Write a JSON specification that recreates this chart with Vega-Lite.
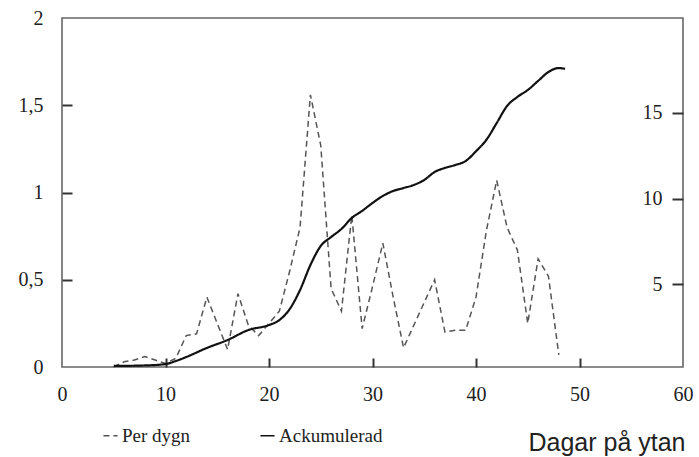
{
  "$schema": "https://vega.github.io/schema/vega-lite/v6.json",
  "width": 621,
  "height": 349,
  "autosize": {"type": "none"},
  "padding": {"left": 62, "top": 18, "right": 16, "bottom": 90},
  "background": "white",
  "config": {
    "view": {"stroke": "#666", "strokeWidth": 1.6},
    "axis": {"domain": false, "grid": false, "labelFont": "Liberation Serif", "labelFontSize": 20, "labelColor": "#222"}
  },
  "datasets": {
    "perdygn": [
      {"dag": 5, "varde": 0.0, "serie": "Per dygn"},
      {"dag": 6, "varde": 0.03, "serie": "Per dygn"},
      {"dag": 7, "varde": 0.04, "serie": "Per dygn"},
      {"dag": 8, "varde": 0.06, "serie": "Per dygn"},
      {"dag": 9, "varde": 0.04, "serie": "Per dygn"},
      {"dag": 10, "varde": 0.02, "serie": "Per dygn"},
      {"dag": 11, "varde": 0.05, "serie": "Per dygn"},
      {"dag": 12, "varde": 0.18, "serie": "Per dygn"},
      {"dag": 13, "varde": 0.19, "serie": "Per dygn"},
      {"dag": 14, "varde": 0.4, "serie": "Per dygn"},
      {"dag": 15, "varde": 0.25, "serie": "Per dygn"},
      {"dag": 16, "varde": 0.1, "serie": "Per dygn"},
      {"dag": 17, "varde": 0.42, "serie": "Per dygn"},
      {"dag": 18, "varde": 0.24, "serie": "Per dygn"},
      {"dag": 19, "varde": 0.18, "serie": "Per dygn"},
      {"dag": 20, "varde": 0.25, "serie": "Per dygn"},
      {"dag": 21, "varde": 0.32, "serie": "Per dygn"},
      {"dag": 22, "varde": 0.55, "serie": "Per dygn"},
      {"dag": 23, "varde": 0.8, "serie": "Per dygn"},
      {"dag": 24, "varde": 1.56, "serie": "Per dygn"},
      {"dag": 25, "varde": 1.27, "serie": "Per dygn"},
      {"dag": 26, "varde": 0.45, "serie": "Per dygn"},
      {"dag": 27, "varde": 0.32, "serie": "Per dygn"},
      {"dag": 28, "varde": 0.87, "serie": "Per dygn"},
      {"dag": 29, "varde": 0.22, "serie": "Per dygn"},
      {"dag": 30, "varde": 0.46, "serie": "Per dygn"},
      {"dag": 31, "varde": 0.71, "serie": "Per dygn"},
      {"dag": 32, "varde": 0.4, "serie": "Per dygn"},
      {"dag": 33, "varde": 0.11, "serie": "Per dygn"},
      {"dag": 34, "varde": 0.24, "serie": "Per dygn"},
      {"dag": 35, "varde": 0.37, "serie": "Per dygn"},
      {"dag": 36, "varde": 0.5, "serie": "Per dygn"},
      {"dag": 37, "varde": 0.2, "serie": "Per dygn"},
      {"dag": 38, "varde": 0.21, "serie": "Per dygn"},
      {"dag": 39, "varde": 0.21, "serie": "Per dygn"},
      {"dag": 40, "varde": 0.4, "serie": "Per dygn"},
      {"dag": 41, "varde": 0.78, "serie": "Per dygn"},
      {"dag": 42, "varde": 1.07, "serie": "Per dygn"},
      {"dag": 43, "varde": 0.8, "serie": "Per dygn"},
      {"dag": 44, "varde": 0.67, "serie": "Per dygn"},
      {"dag": 45, "varde": 0.25, "serie": "Per dygn"},
      {"dag": 46, "varde": 0.62, "serie": "Per dygn"},
      {"dag": 47, "varde": 0.52, "serie": "Per dygn"},
      {"dag": 48, "varde": 0.07, "serie": "Per dygn"}
    ],
    "ack": [
      {"dag": 5, "varde": 0.26, "serie": "Ackumulerad"},
      {"dag": 8, "varde": 0.29, "serie": "Ackumulerad"},
      {"dag": 10, "varde": 0.37, "serie": "Ackumulerad"},
      {"dag": 11, "varde": 0.55, "serie": "Ackumulerad"},
      {"dag": 12, "varde": 0.78, "serie": "Ackumulerad"},
      {"dag": 14, "varde": 1.31, "serie": "Ackumulerad"},
      {"dag": 16, "varde": 1.77, "serie": "Ackumulerad"},
      {"dag": 18, "varde": 2.35, "serie": "Ackumulerad"},
      {"dag": 20, "varde": 2.64, "serie": "Ackumulerad"},
      {"dag": 21, "varde": 2.93, "serie": "Ackumulerad"},
      {"dag": 22, "varde": 3.57, "serie": "Ackumulerad"},
      {"dag": 23, "varde": 4.68, "serie": "Ackumulerad"},
      {"dag": 24, "varde": 6.13, "serie": "Ackumulerad"},
      {"dag": 25, "varde": 7.24, "serie": "Ackumulerad"},
      {"dag": 26, "varde": 7.76, "serie": "Ackumulerad"},
      {"dag": 27, "varde": 8.23, "serie": "Ackumulerad"},
      {"dag": 28, "varde": 8.87, "serie": "Ackumulerad"},
      {"dag": 29, "varde": 9.28, "serie": "Ackumulerad"},
      {"dag": 30, "varde": 9.74, "serie": "Ackumulerad"},
      {"dag": 31, "varde": 10.15, "serie": "Ackumulerad"},
      {"dag": 32, "varde": 10.44, "serie": "Ackumulerad"},
      {"dag": 33, "varde": 10.61, "serie": "Ackumulerad"},
      {"dag": 34, "varde": 10.79, "serie": "Ackumulerad"},
      {"dag": 35, "varde": 11.08, "serie": "Ackumulerad"},
      {"dag": 36, "varde": 11.54, "serie": "Ackumulerad"},
      {"dag": 37, "varde": 11.78, "serie": "Ackumulerad"},
      {"dag": 38, "varde": 11.95, "serie": "Ackumulerad"},
      {"dag": 39, "varde": 12.18, "serie": "Ackumulerad"},
      {"dag": 40, "varde": 12.75, "serie": "Ackumulerad"},
      {"dag": 41, "varde": 13.41, "serie": "Ackumulerad"},
      {"dag": 42, "varde": 14.39, "serie": "Ackumulerad"},
      {"dag": 43, "varde": 15.38, "serie": "Ackumulerad"},
      {"dag": 44, "varde": 15.91, "serie": "Ackumulerad"},
      {"dag": 45, "varde": 16.31, "serie": "Ackumulerad"},
      {"dag": 46, "varde": 16.84, "serie": "Ackumulerad"},
      {"dag": 47, "varde": 17.36, "serie": "Ackumulerad"},
      {"dag": 48, "varde": 17.59, "serie": "Ackumulerad"},
      {"dag": 48.6, "varde": 17.54, "serie": "Ackumulerad"}
    ]
  },
  "layer": [
    {
      "data": {"name": "perdygn"},
      "mark": {"type": "line", "strokeWidth": 1.5},
      "encoding": {
        "x": {
          "field": "dag", "type": "quantitative",
          "scale": {"domain": [0, 60], "nice": false, "zero": true},
          "axis": {
            "orient": "bottom",
            "values": [0, 10, 20, 30, 40, 50, 60],
            "ticks": false, "labelPadding": 17, "labelFlush": false,
            "title": "Dagar på ytan", "titleFont": "Liberation Sans", "titleFontSize": 25,
            "titleFontWeight": "normal", "titleColor": "#222",
            "titleX": 623, "titleY": 83, "titleAlign": "right", "titleBaseline": "alphabetic", "titleAnchor": "end"
          }
        },
        "y": {
          "field": "varde", "type": "quantitative",
          "scale": {"domain": [0, 2], "nice": false},
          "axis": {
            "orient": "left", "values": [0, 0.5, 1, 1.5, 2], "format": "~g",
            "labelExpr": "replace(datum.label, '.', ',')",
            "ticks": false, "labelPadding": 19, "title": null
          }
        },
        "color": {
          "field": "serie", "type": "nominal",
          "scale": {"domain": ["Per dygn", "Ackumulerad"], "range": ["#555555", "#111111"]},
          "legend": {
            "orient": "none", "legendX": 39, "legendY": 408, "direction": "horizontal", "title": null,
            "symbolType": "stroke", "symbolSize": 200, "symbolStrokeWidth": 1.5,
            "labelFont": "Liberation Serif", "labelFontSize": 19, "labelColor": "#222",
            "labelOffset": 2, "columnPadding": 66
          }
        },
        "strokeDash": {
          "field": "serie", "type": "nominal",
          "scale": {"domain": ["Per dygn", "Ackumulerad"], "range": [[6, 4], [1, 0]]},
          "legend": {
            "orient": "none", "legendX": 39, "legendY": 408, "direction": "horizontal", "title": null,
            "symbolType": "stroke", "symbolSize": 200, "symbolStrokeWidth": 1.5,
            "labelFont": "Liberation Serif", "labelFontSize": 19, "labelColor": "#222",
            "labelOffset": 2, "columnPadding": 66
          }
        }
      }
    },
    {
      "data": {"name": "perdygn"},
      "mark": {"type": "line", "opacity": 0},
      "encoding": {
        "x": {
          "field": "dag", "type": "quantitative",
          "axis": {"orient": "top", "offset": -349, "values": [10, 20, 30, 40, 50], "labelExpr": "''", "tickSize": 9, "tickColor": "#333", "tickWidth": 2, "title": null}
        },
        "y": {
          "field": "varde", "type": "quantitative",
          "scale": {"domain": [0, 2], "nice": false},
          "axis": {"orient": "right", "offset": -621, "values": [0.5, 1, 1.5], "labelExpr": "''", "tickSize": 10, "tickColor": "#333", "tickWidth": 2, "title": null}
        }
      }
    },
    {
      "data": {"name": "ack"},
      "mark": {"type": "line", "strokeWidth": 2.2, "interpolate": "monotone"},
      "encoding": {
        "x": {"field": "dag", "type": "quantitative", "axis": null},
        "y": {
          "field": "varde", "type": "quantitative",
          "scale": {"domain": [0.2, 20.5], "nice": false, "zero": false},
          "axis": {
            "orient": "right", "values": [5, 10, 15],
            "ticks": false, "labelPadding": -21, "labelAlign": "right", "title": null
          }
        },
        "color": {"field": "serie", "type": "nominal"},
        "strokeDash": {"field": "serie", "type": "nominal"}
      }
    },
    {
      "data": {"name": "ack"},
      "mark": {"type": "line", "opacity": 0},
      "encoding": {
        "x": {"field": "dag", "type": "quantitative", "axis": null},
        "y": {
          "field": "varde", "type": "quantitative",
          "scale": {"domain": [0.2, 20.5], "nice": false, "zero": false},
          "axis": {"orient": "left", "offset": -621, "values": [5, 10, 15], "labelExpr": "''", "tickSize": 11, "tickColor": "#333", "tickWidth": 2, "title": null}
        }
      }
    }
  ],
  "resolve": {"scale": {"y": "independent"}, "axis": {"x": "independent", "y": "independent"}}
}
